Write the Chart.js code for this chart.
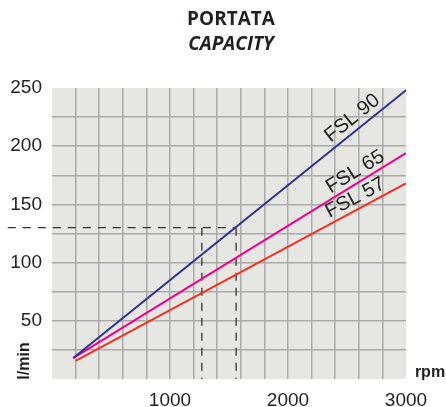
<!DOCTYPE html>
<html>
<head>
<meta charset="utf-8">
<script src="https://cdn.jsdelivr.net/npm/chart.js@4"></script>
<style>
    body { margin: 0; background: #fff; }
    #wrap { width: 446px; height: 407px; position: relative; }
</style>
</head>
<body>
<div id="wrap"><canvas id="capacityChart"></canvas></div>
<script>
// portata / capacity, l/min vs rpm
const seriesNames = ["FSL 90", "FSL 65", "FSL 57"];
const rpm90 = [180, 3000];
const flow90 = [18, 248];
const rpm65 = [180, 3000];
const flow65 = [18, 194];
const rpm57 = [200, 3000];
const flow57 = [15.5, 168];

// dashed reading lines
const readFlow = 130;
const readRpmLeft = 1270;
const readRpmRight = 1560;

const xTickLabels = [1000, 2000, 3000];
const yTickLabels = [50, 100, 150, 200, 250];

const toPoints = (xs, ys) => xs.map((x, i) => ({ x: x, y: ys[i] }));

const labelFont = "Liberation Sans, Arial, sans-serif";

const textPlugin = {
    id: "textPlugin",
    beforeDraw(chart) {
        const { ctx, chartArea } = chart;
        ctx.save();
        ctx.fillStyle = "#e6e6e2";
        ctx.fillRect(chartArea.left, chartArea.top, chartArea.right - chartArea.left, chartArea.bottom - chartArea.top);
        ctx.restore();
    },
    afterDraw(chart) {
        const { ctx } = chart;
        const xs = chart.scales.x;
        const ys = chart.scales.y;
        ctx.save();
        ctx.fillStyle = "#231f20";
        ctx.textAlign = "center";
        ctx.textBaseline = "middle";

        ctx.font = "bold 19px 'Open Sans', sans-serif";
        ctx.fillText("PORTATA", 231, 20);
        ctx.font = "italic bold 19px 'Open Sans', sans-serif";
        ctx.fillText("CAPACITY", 231, 45);

        ctx.font = "bold 16px " + labelFont;
        ctx.fillText("rpm", 430, 373);

        ctx.save();
        ctx.translate(25, 361);
        ctx.rotate(-Math.PI / 2);
        ctx.fillText("l/min", 0, 0);
        ctx.restore();

        // series names along the lines
        const anchors = [
            { rpm: 2545, flow: 224 },
            { rpm: 2570, flow: 178 },
            { rpm: 2570, flow: 155.5 },
        ];
        const lines = [[rpm90, flow90], [rpm65, flow65], [rpm57, flow57]];
        ctx.font = "20px " + labelFont;
        ctx.fillStyle = "#222222";
        seriesNames.forEach((name, i) => {
            const [r, f] = lines[i];
            const x0 = xs.getPixelForValue(r[0]), y0 = ys.getPixelForValue(f[0]);
            const x1 = xs.getPixelForValue(r[1]), y1 = ys.getPixelForValue(f[1]);
            const angle = Math.atan2(y1 - y0, x1 - x0);
            ctx.save();
            ctx.translate(xs.getPixelForValue(anchors[i].rpm), ys.getPixelForValue(anchors[i].flow));
            ctx.rotate(angle);
            ctx.fillText(name, 0, 0);
            ctx.restore();
        });
        ctx.restore();
    },
};

const edgeGrid = (lo, hi) => (c) =>
    c.tick && (c.tick.value === lo || c.tick.value === hi) ? "rgba(0,0,0,0)" : "#a9a9a9";

const dashed = {
    borderColor: "#333333",
    borderWidth: 1.3,
    borderDash: [8, 7],
    pointRadius: 0,
    clip: false,
    order: 5,
};

new Chart(document.getElementById("capacityChart"), {
    type: "line",
    data: {
        datasets: [
            {
                label: seriesNames[0],
                data: toPoints(rpm90, flow90),
                borderColor: "#2e3192",
                borderWidth: 2,
                pointRadius: 0,
            },
            {
                label: seriesNames[1],
                data: toPoints(rpm65, flow65),
                borderColor: "#ec008c",
                borderWidth: 2,
                pointRadius: 0,
            },
            {
                label: seriesNames[2],
                data: toPoints(rpm57, flow57),
                borderColor: "#ef3024",
                borderWidth: 2,
                pointRadius: 0,
            },
            Object.assign({ label: "h", data: [{ x: -375, y: readFlow }, { x: readRpmRight, y: readFlow }] }, dashed),
            Object.assign({ label: "v1", data: [{ x: readRpmLeft, y: readFlow }, { x: readRpmLeft, y: 0 }] }, dashed),
            Object.assign({ label: "v2", data: [{ x: readRpmRight, y: readFlow }, { x: readRpmRight, y: 0 }] }, dashed),
        ],
    },
    options: {
        responsive: true,
        maintainAspectRatio: false,
        animation: false,
        layout: { padding: { top: 88, right: 40, left: 0, bottom: 0 } },
        plugins: {
            legend: { display: false },
            tooltip: { enabled: false },
        },
        scales: {
            x: {
                type: "linear",
                min: 0,
                max: 3000,
                border: { display: false },
                grid: { color: edgeGrid(0, 3000), lineWidth: 1.5, drawTicks: false },
                ticks: {
                    stepSize: 200,
                    padding: 10,
                    color: "#231f20",
                    font: { family: labelFont, size: 19 },
                    maxRotation: 0,
                    autoSkip: false,
                    callback: (v) => (xTickLabels.includes(v) ? String(v) : ""),
                },
                afterFit: (s) => { s.height = 28; },
            },
            y: {
                min: 0,
                max: 250,
                border: { display: false },
                grid: { color: edgeGrid(0, 250), lineWidth: 1.5, drawTicks: false },
                ticks: {
                    stepSize: 25,
                    padding: 10,
                    color: "#231f20",
                    font: { family: labelFont, size: 19 },
                    autoSkip: false,
                    callback: (v) => (yTickLabels.includes(v) ? String(v) : ""),
                },
                afterFit: (s) => { s.width = 52; },
            },
        },
    },
    plugins: [textPlugin],
});
</script>
</body>
</html>
